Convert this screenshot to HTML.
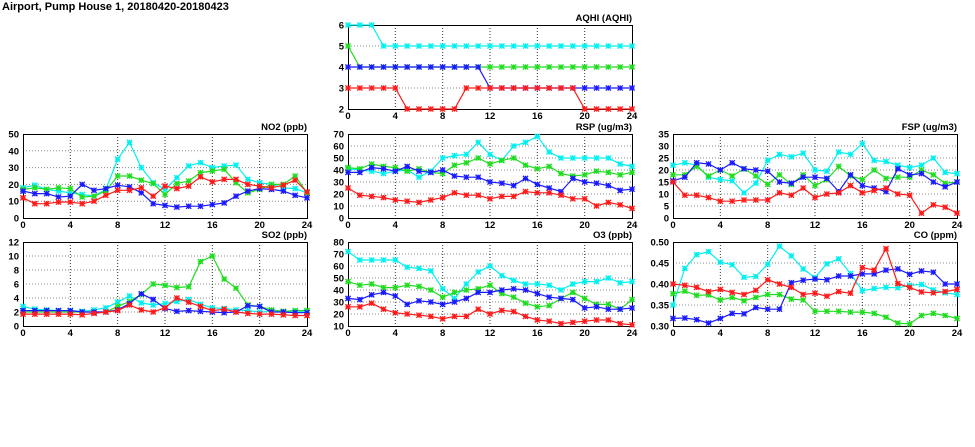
<!DOCTYPE html>
<html><head><meta charset="utf-8"><style>
body{margin:0;background:#fff;width:975px;height:447px;overflow:hidden}
svg{display:block;font-family:"Liberation Sans",sans-serif;font-weight:bold}
</style></head><body>
<svg id="c" width="975" height="447">
<text x="2" y="10" font-size="11" fill="#000">Airport, Pump House 1, 20180420-20180423</text>
</svg>
<script>
const hours=[0,1,2,3,4,5,6,7,8,9,10,11,12,13,14,15,16,17,18,19,20,21,22,23,24];
const xTicks=[0,4,8,12,16,20,24];
const colors=['#00f0f0','#20dd20','#1a1aff','#ff1a1a'];
const seriesNames=['cyan','green','blue','red'];

const no2Cyan=[18,19.5,17,16,15,14,13,17,35,45,30,21,17,24,31,33,30,31,31.5,23,21,20,18,17.5,15];
const no2Green=[17,18,17,18,17.5,12.5,13,16,25,25,22.5,20.5,14,20.5,22,27,28,29,21,15,17,20,20,25,15];
const no2Blue=[16,14.5,14.5,12.5,13,20,16.5,17.5,19.5,18.5,15,8.5,7.5,6.5,7,7,8,9,13,16,17.5,17,16,13.5,12];
const no2Red=[12,8.5,8.5,9.5,9.5,8.5,10,13.5,16.5,16.5,18,13,19,17.5,19,24.5,21.5,23,23,20,19,18,19.5,22.5,15.5];

const so2Cyan=[2.8,2.4,2.3,2.2,2.2,2.1,2.3,2.6,3.4,4.3,3.3,3.0,3.2,3.5,3.8,3.1,2.6,2.5,2.3,2.2,2.0,2.1,2.0,2.0,2.0];
const so2Green=[2,2,2,2,2,2,2,2,2.8,3.5,4.5,6,5.8,5.5,5.6,9.2,10,6.7,5.4,3.0,2.8,2.3,2.1,2.2,2.2];
const so2Blue=[2.2,2.2,2.2,2.2,2.2,2.0,2.0,2.0,2.3,3.2,4.6,3.8,2.5,2.1,2.2,2.1,2.0,1.9,2.0,2.9,2.8,2.0,2.0,1.9,1.9];
const so2Red=[1.7,1.7,1.7,1.7,1.7,1.6,1.8,2.0,2.2,3.0,2.3,2.0,2.6,4.0,3.4,2.8,2.2,2.4,2.0,1.8,1.7,1.7,1.6,1.5,1.5];

const aqhiCyan=[6,6,6,5,5,5,5,5,5,5,5,5,5,5,5,5,5,5,5,5,5,5,5,5,5];
const aqhiGreen=[5,4,4,4,4,4,4,4,4,4,4,4,4,4,4,4,4,4,4,4,4,4,4,4,4];
const aqhiBlue=[4,4,4,4,4,4,4,4,4,4,4,4,3,3,3,3,3,3,3,3,3,3,3,3,3];
const aqhiRed=[3,3,3,3,3,2,2,2,2,2,3,3,3,3,3,3,3,3,3,3,2,2,2,2,2];

const rspCyan=[41,40,39,37,39,40,34,39,50,52,53,63,53,48,60,63,68,55,50,50,50,50,50,45,43];
const rspGreen=[42,41,45,43,42,39,41,38,37,44,46,50,45,48,50,44,41,43,37,35,36,39,38,36,38];
const rspBlue=[38,38,42,41,39,43,39,38,40,35,34,34,30,29,27,33,28,25,22,33,30,29,27,23,24];
const rspRed=[25,19,18,17,15,14,13,15,17,21,19,19,16,18,18,22,21,21,19,16,16,10,13,11,8];

const o3Cyan=[72,65,65,65,65,59,58,56,41,33,45,55,60,52,48,45,45,44,40,45,47,47,50,46,47];
const o3Green=[47,44,45,42,42,44,43,40,34,38,40,41,44,37,34,29,26,27,33,38,33,28,28,24,32];
const o3Blue=[33,32,36,38,35,28,31,30,28,30,33,38,38,40,41,40,37,34,33,32,25,26,24,24,25];
const o3Red=[26,26,29,24,21,20,19,18,16,18,18,24,20,23,22,18,15,14,12,13,14,15,15,12,11];

const fspCyan=[22,23,22,17,16,15.5,10.5,14.5,24,26.5,25.5,27,20,19.5,27.5,26.5,31,24,23.5,22,21,22,25,19,18.5];
const fspGreen=[18,18,21.5,17.5,20,17.5,20.5,17.5,14,18,14,18,13.5,16,21.5,17.5,16,20,16.5,17,17,20,18,14.5,15];
const fspBlue=[15.5,17,23,22.5,20,23,20.5,20,19.5,15,14.5,17,17,16.5,11,18,13.5,12.5,11,20.5,18,18.5,15,13,15];
const fspRed=[15,9.5,9.5,8.5,7,7,7.5,7.5,7.5,10.5,9.5,12.5,8.5,10,10.5,13.5,10.5,11.5,12.5,10,9.5,2,5.5,4.5,2];

const coCyan=[0.35,0.437,0.47,0.477,0.452,0.446,0.416,0.418,0.447,0.49,0.467,0.436,0.415,0.448,0.46,0.425,0.384,0.389,0.392,0.391,0.397,0.399,0.386,0.379,0.375];
const coGreen=[0.377,0.383,0.373,0.374,0.362,0.368,0.36,0.368,0.375,0.375,0.364,0.362,0.335,0.335,0.335,0.333,0.333,0.33,0.321,0.307,0.305,0.325,0.33,0.325,0.318];
const coBlue=[0.318,0.319,0.315,0.307,0.318,0.33,0.329,0.344,0.34,0.34,0.403,0.409,0.412,0.41,0.419,0.419,0.424,0.424,0.433,0.436,0.423,0.431,0.428,0.4,0.4];
const coRed=[0.4,0.397,0.392,0.382,0.387,0.38,0.375,0.385,0.41,0.4,0.392,0.375,0.378,0.371,0.382,0.378,0.439,0.433,0.484,0.401,0.392,0.381,0.379,0.382,0.387];

const panels=[
 {name:'aqhi',title:'AQHI (AQHI)',x:348,y:25,min:2,max:6,step:1,dec:0,s:[aqhiCyan,aqhiGreen,aqhiBlue,aqhiRed]},
 {name:'no2',title:'NO2 (ppb)',x:23,y:134,min:0,max:50,step:10,dec:0,s:[no2Cyan,no2Green,no2Blue,no2Red]},
 {name:'rsp',title:'RSP (ug/m3)',x:348,y:134,min:0,max:70,step:10,dec:0,s:[rspCyan,rspGreen,rspBlue,rspRed]},
 {name:'fsp',title:'FSP (ug/m3)',x:673,y:134,min:0,max:35,step:5,dec:0,s:[fspCyan,fspGreen,fspBlue,fspRed]},
 {name:'so2',title:'SO2 (ppb)',x:23,y:242,min:0,max:12,step:2,dec:0,s:[so2Cyan,so2Green,so2Blue,so2Red]},
 {name:'o3',title:'O3 (ppb)',x:348,y:242,min:10,max:80,step:10,dec:0,s:[o3Cyan,o3Green,o3Blue,o3Red]},
 {name:'co',title:'CO (ppm)',x:673,y:242,min:0.30,max:0.50,step:0.05,dec:2,s:[coCyan,coGreen,coBlue,coRed]}
];
const W=284,H=84,NS='http://www.w3.org/2000/svg';
const svg=document.getElementById('c');
function mk(tag,attrs,parent){const e=document.createElementNS(NS,tag);for(const k in attrs)e.setAttribute(k,attrs[k]);(parent||svg).appendChild(e);return e;}
panels.forEach(p=>{
 const g=mk('g',{});
 
 
 const xs=v=>p.x+v/24*W;
 const ys=v=>p.y+H-(v-p.min)/(p.max-p.min)*H;
 const n=Math.round((p.max-p.min)/p.step);
 for(let i=0;i<=n;i++){
  const v=p.min+i*p.step,y=ys(v);
  if(i>0&&i<n){const l=mk('line',{x1:p.x,x2:p.x+W,y1:y,y2:y,stroke:'#888','stroke-dasharray':'1,2'},g);
   }
  const t=mk('text',{x:p.x-4,y:y+3.5,'font-size':'9.5','text-anchor':'end'},g);
  
  t.textContent=v.toFixed(p.dec);
 }
 xTicks.forEach((v,i)=>{
  const x=xs(v);
  if(i>0&&i<xTicks.length-1){const l=mk('line',{x1:x,x2:x,y1:p.y,y2:p.y+H,stroke:'#333','stroke-dasharray':'1,2'},g);
   }
  const t=mk('text',{x:x,y:p.y+H+10,'font-size':'9.5','text-anchor':'middle'},g);
  
  t.textContent=v;
 });
 const fr=mk('rect',{x:p.x+0.5,y:p.y+0.5,width:W,height:H,fill:'none',stroke:'#000'},g);
 
 const tt=mk('text',{x:p.x+W,y:p.y-4,'font-size':'9.5','text-anchor':'end'},g);
 
 tt.textContent=p.title;
 p.s.forEach((arr,si)=>{
  const c=colors[si];
  const pts=arr.map((v,i)=>xs(hours[i]).toFixed(1)+','+ys(v).toFixed(1)).join(' ');
  const pl=mk('polyline',{points:pts,fill:'none',stroke:c,'stroke-width':1.2},g);
  
  
  arr.forEach((v,i)=>{
   const x=xs(hours[i]),y=ys(v),r=2.6;
   const m=mk('path',{d:`M${x-r},${y}H${x+r}M${x},${y-r}V${y+r}M${x-r},${y-r}L${x+r},${y+r}M${x-r},${y+r}L${x+r},${y-r}`,stroke:c,'stroke-width':1.3},g);
   
   
  });
 });
});
</script>
</body></html>
